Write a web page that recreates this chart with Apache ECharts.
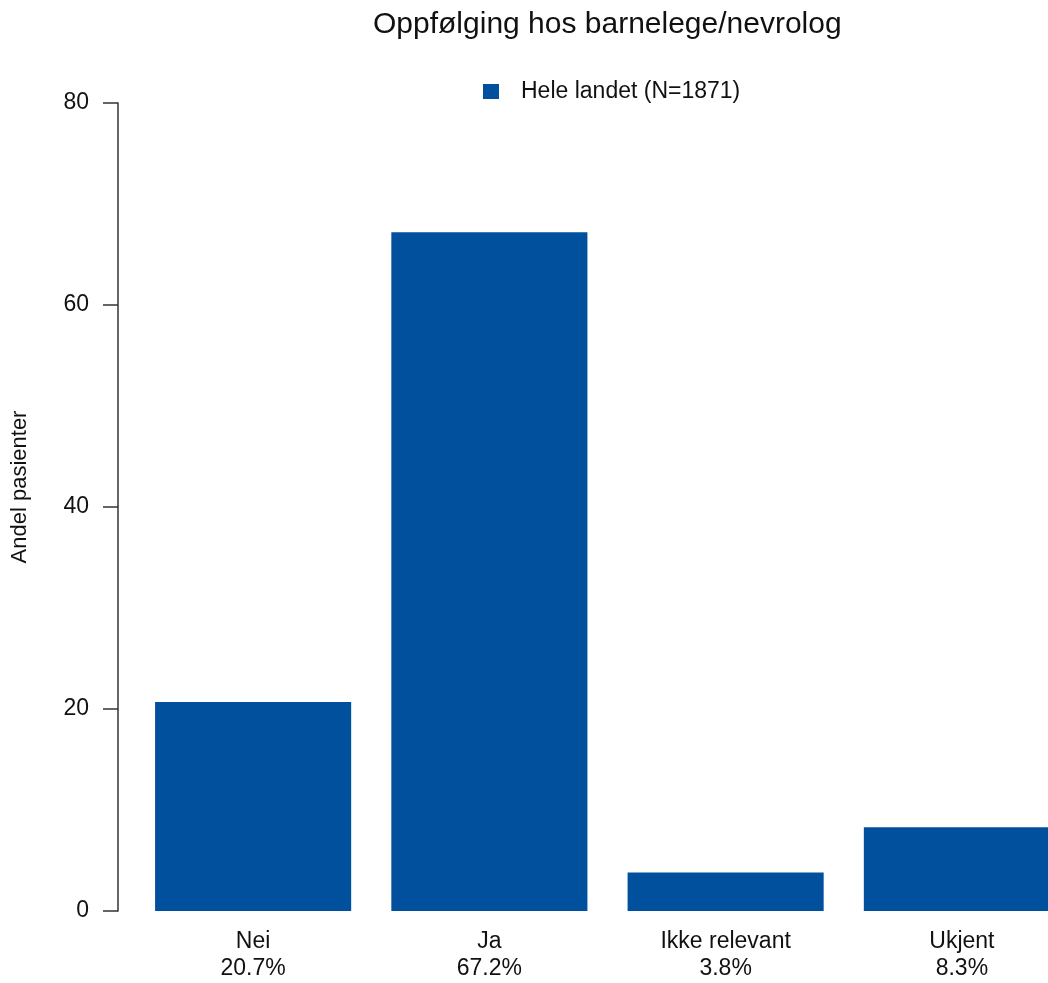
<!DOCTYPE html>
<html>
<head>
<meta charset="utf-8">
<script src="https://cdn.jsdelivr.net/npm/echarts@6/dist/echarts.min.js"></script>
<style>html,body{margin:0;padding:0;background:#fff;overflow:hidden;}#c{width:1080px;height:983px;}</style>
</head>
<body>
<div id="c"></div>
<script>
const categories = ['Nei', 'Ja', 'Ikke relevant', 'Ukjent'];
const values = [20.7, 67.2, 3.8, 8.3];
const seriesName = 'Hele landet (N=1871)';
const titleText = 'Oppfølging hos barnelege/nevrolog';
const yAxisTitle = 'Andel pasienter';

const font = 'Liberation Sans, Arial, Helvetica, sans-serif';
const chart = echarts.init(document.getElementById('c'));
chart.setOption({
  animation: false,
  textStyle: { fontFamily: font },
  title: {
    text: titleText,
    left: 373,
    top: 10,
    padding: 0,
    textStyle: { fontSize: 30, fontWeight: 'normal', color: '#111', fontFamily: font }
  },
  legend: {
    data: [seriesName],
    left: 483,
    top: 80,
    padding: 0,
    icon: 'rect',
    itemWidth: 16,
    itemHeight: 15,
    itemGap: 10,
    textStyle: { fontSize: 23, color: '#111', fontFamily: font, padding: [0, 0, 0, 17] }
  },
  grid: { left: 135, right: 0, top: 103, bottom: 72, containLabel: false },
  xAxis: {
    type: 'category',
    data: categories,
    axisLine: { show: false },
    axisTick: { show: false },
    axisLabel: {
      margin: 17,
      fontSize: 23,
      lineHeight: 27,
      color: '#111',
      fontFamily: font,
      formatter: function (v, i) { return v + '\n' + values[i].toFixed(1) + '%'; }
    }
  },
  yAxis: {
    type: 'value',
    min: 0,
    max: 80,
    interval: 20,
    offset: 17,
    splitLine: { show: false },
    axisLine: { show: true, lineStyle: { color: '#333', width: 1.5 } },
    axisTick: { show: true, length: 15, lineStyle: { color: '#333', width: 1.5 } },
    axisLabel: { margin: 29, fontSize: 23, color: '#111', fontFamily: font }
  },
  graphic: [{
    type: 'text',
    x: 20,
    y: 487,
    rotation: Math.PI / 2,
    style: {
      text: yAxisTitle,
      fontSize: 22,
      fontFamily: font,
      fill: '#111',
      align: 'center',
      verticalAlign: 'middle'
    }
  }],
  series: [{
    name: seriesName,
    type: 'bar',
    data: values,
    barCategoryGap: '17%',
    itemStyle: { color: '#00509E' }
  }]
});
</script>
</body>
</html>
